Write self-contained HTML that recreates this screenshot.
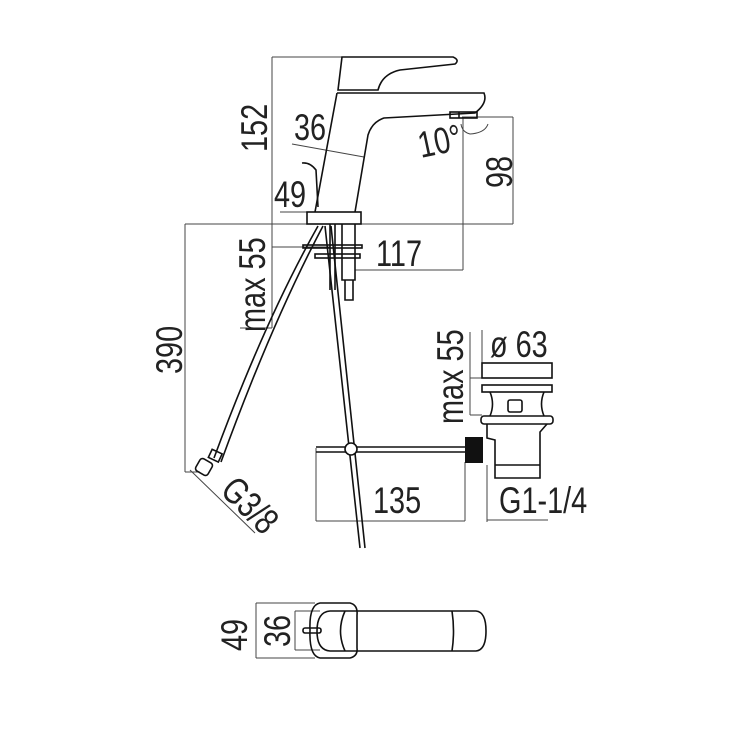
<!DOCTYPE html>
<html><head><meta charset="utf-8"><style>
html,body{margin:0;padding:0;background:#fff}
svg{display:block}
text{font-family:"Liberation Sans Narrow","Liberation Sans",sans-serif;fill:#222}
</style></head><body>
<svg width="737" height="737" viewBox="0 0 737 737" xmlns="http://www.w3.org/2000/svg">
<g fill="none" stroke="#444" stroke-width="1">
<line x1="272" y1="57" x2="272" y2="225"/>
<line x1="272" y1="57" x2="345" y2="57"/>
<line x1="185" y1="224" x2="513" y2="224"/>
<line x1="462" y1="117" x2="513" y2="117"/>
<line x1="513" y1="117" x2="513" y2="224"/>
<line x1="463" y1="117" x2="463" y2="270"/>
<line x1="355" y1="270" x2="463" y2="270"/>
<line x1="272" y1="247" x2="330" y2="247"/>
<line x1="272" y1="225" x2="272" y2="328"/>
<line x1="240" y1="328" x2="272" y2="328"/>
<line x1="292" y1="144" x2="364" y2="157"/>
<line x1="280" y1="212" x2="310" y2="212"/>
<line x1="185" y1="224" x2="185" y2="472"/>
<line x1="185" y1="472" x2="200" y2="472"/>
<line x1="190" y1="470" x2="255" y2="533"/>
<line x1="316" y1="448" x2="316" y2="521"/>
<line x1="465" y1="462" x2="465" y2="521"/>
<line x1="316" y1="521" x2="465" y2="521"/>
<line x1="487" y1="465" x2="487" y2="522"/>
<line x1="487" y1="520" x2="548" y2="520"/>
<line x1="470" y1="332" x2="470" y2="415"/>
<line x1="470" y1="378" x2="482" y2="378"/>
<line x1="470" y1="415" x2="482" y2="415"/>
<line x1="482" y1="330" x2="482" y2="363"/>
<line x1="256" y1="603" x2="256" y2="658"/>
<line x1="256" y1="603" x2="315" y2="603"/>
<line x1="256" y1="658" x2="315" y2="658"/>
<line x1="295" y1="611" x2="295" y2="650"/>
<line x1="295" y1="611" x2="320" y2="611"/>
<line x1="295" y1="650" x2="320" y2="650"/>
<path d="M461 124 Q462 132 470 134 Q485 133 488 124"/>
</g>
<g fill="none" stroke="#111" stroke-width="1.6">
<path d="M342 57 L453 57 Q460 60 455 64 L400 70 Q382 74 378 90 L338 90 Z"/>
<path d="M337 93 L315 212 M337 93 L484 93 Q488 103 475 113 L384 118 Q372 122 368 135 L355 212"/>
<rect x="450" y="112" width="27" height="6"/>
<line x1="459" y1="112" x2="459" y2="118"/>
<rect x="307" y="212" width="54" height="12"/>
<path d="M302 163 Q310 162 316 170 L318 207"/>
<rect x="303" y="245" width="59" height="3"/>
<rect x="315" y="254" width="45" height="4"/>
<path d="M342 224 L342 280 L355 280 L355 224 M345 280 L345 300 L353 300 L353 280"/>
<path d="M335 224 L335 290 M330 224 L330 290"/>
<path d="M318 226 Q265 320 214 458"/>
<path d="M323 226 Q272 322 221 462"/>
<rect x="210" y="451" width="11" height="9" transform="rotate(25 215 455)"/>
<rect x="197" y="460" width="14" height="14" rx="3" transform="rotate(30 204 467)"/>
<path d="M325 226 L360 548 M331 226 L365 548"/>
<line x1="316" y1="447" x2="465" y2="447"/>
<line x1="316" y1="452" x2="465" y2="452"/>
<circle cx="351" cy="449" r="6" fill="#fff"/>
<rect x="482" y="363" width="70" height="15"/>
<rect x="482" y="385" width="70" height="7"/>
<path d="M490 392 Q495 404 490 416 M544 392 Q539 404 544 416"/>
<rect x="508" y="400" width="14" height="12" rx="2"/>
<rect x="481" y="416" width="72" height="8" rx="3"/>
<path d="M487 424 L487 438 L495 440 L495 478 L540 478 L540 432 L547 424"/>
<line x1="495" y1="465" x2="540" y2="465"/>
<path d="M320 603 L350 603 Q358 605 357 615 L357 648 Q358 656 350 658 L320 658 Q309 656 310 630 Q309 605 320 603 Z"/>
<path d="M330 611 L476 611 Q486 612 486 631 Q486 650 476 651 L330 651 Q317 650 317 631 Q317 612 330 611 Z"/>
<path d="M345 611 Q336 631 345 651 M452 611 Q455 631 452 651"/>
<rect x="303" y="628" width="18" height="5" rx="2"/>
</g>
<rect x="465" y="437" width="18" height="26" fill="#111"/>
<g font-size="37">
<text transform="translate(267,152) rotate(-90) scale(0.78,1)">152</text>
<text transform="translate(294,140) scale(0.78,1)">36</text>
<text transform="translate(274,207) scale(0.78,1)">49</text>
<text transform="translate(421,158) rotate(-12) scale(0.78,1)">10°</text>
<text transform="translate(512,188) rotate(-90) scale(0.78,1)">98</text>
<text transform="translate(376,266) scale(0.78,1)">117</text>
<text transform="translate(265,332) rotate(-90) scale(0.78,1)">max 55</text>
<text transform="translate(182,374) rotate(-90) scale(0.78,1)">390</text>
<text transform="translate(490,357) scale(0.78,1)">ø 63</text>
<text transform="translate(463,424) rotate(-90) scale(0.78,1)">max 55</text>
<text transform="translate(373,513) scale(0.78,1)">135</text>
<text transform="translate(499,513) scale(0.78,1)">G1-1/4</text>
<text transform="translate(219,492) rotate(45) scale(0.78,1)">G3/8</text>
<text transform="translate(247,651) rotate(-90) scale(0.78,1)">49</text>
<text transform="translate(290,647) rotate(-90) scale(0.78,1)">36</text>
</g>
</svg>
</body></html>
